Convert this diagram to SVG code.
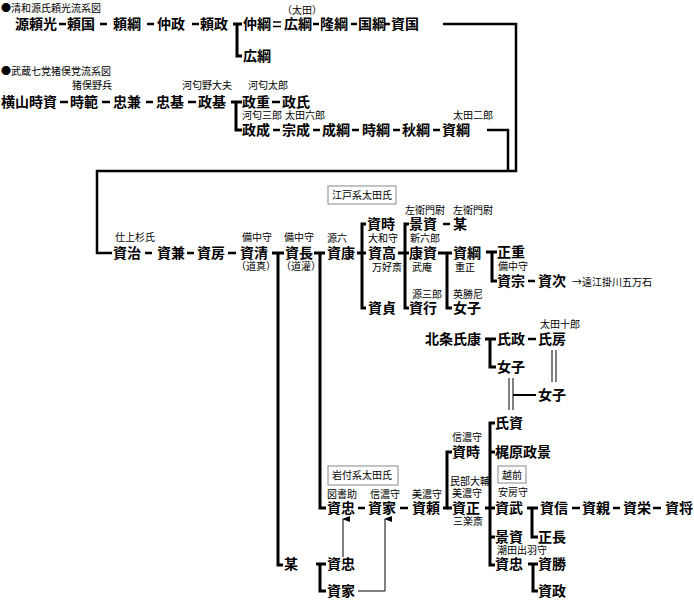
<svg xmlns="http://www.w3.org/2000/svg" width="694" height="600" viewBox="0 0 694 600">
<style>
text{font-family:"Noto Sans CJK JP","Noto Sans CJK SC",sans-serif;fill:#000}
.n{font-size:14px;font-weight:700}
.s{font-size:10px}
.t{font-size:10px}
.c line,.c polyline{stroke:#000;stroke-width:3;fill:none;stroke-linecap:butt}
.c .d{stroke-width:2.5}
.c .th{stroke-width:1}
.c .f{stroke-width:2.5}
.box{fill:#fff;stroke:#888;stroke-width:1}
</style>
<defs>
<marker id="ah" viewBox="0 0 6 8" refX="3" refY="1" markerWidth="6" markerHeight="8" orient="auto-start-reverse" markerUnits="userSpaceOnUse">
<path d="M0,8 L3,0 L6,8 Z" fill="#000"/>
</marker>
</defs>
<rect width="694" height="600" fill="#fff"/>
<g id="titles">
<text class="t" x="1" y="12">●清和源氏頼光流系図</text>
<text class="t" x="1" y="75">●武蔵七党猪俣党流系図</text>
</g>
<g class="c" id="connectors">
<line class="d" x1="59" y1="24" x2="66" y2="24"/>
<line class="d" x1="100" y1="24" x2="107" y2="24"/>
<line class="d" x1="147" y1="24" x2="154" y2="24"/>
<line class="d" x1="192" y1="24" x2="199" y2="24"/>
<polyline points="233,24 242,24"/>
<polyline points="237,24 237,56 242,56"/>
<line x1="273" y1="22" x2="281" y2="22" style="stroke-width:1.5"/>
<line x1="273" y1="26.5" x2="281" y2="26.5" style="stroke-width:1.5"/>
<line class="d" x1="313" y1="24" x2="319" y2="24"/>
<line class="d" x1="351" y1="24" x2="357" y2="24"/>
<line class="d" x1="385" y1="24" x2="390" y2="24"/>
<polyline class="f" points="443,24 516,24 516,171 97,171 97,253 112,253"/>
<line class="d" x1="60" y1="102" x2="68" y2="102"/>
<line class="d" x1="102" y1="102" x2="110" y2="102"/>
<line class="d" x1="146" y1="102" x2="153" y2="102"/>
<line class="d" x1="188" y1="102" x2="196" y2="102"/>
<polyline points="231,102 242,102"/>
<polyline points="236,102 236,130 242,130"/>
<line class="d" x1="272" y1="102" x2="280" y2="102"/>
<line class="d" x1="273" y1="130" x2="280" y2="130"/>
<line class="d" x1="313" y1="130" x2="320" y2="130"/>
<line class="d" x1="352" y1="130" x2="359" y2="130"/>
<line class="d" x1="393" y1="130" x2="400" y2="130"/>
<line class="d" x1="433" y1="130" x2="440" y2="130"/>
<polyline class="f" points="487,130 508,130 508,171"/>
<line class="d" x1="145" y1="253" x2="152" y2="253"/>
<line class="d" x1="187" y1="253" x2="194" y2="253"/>
<line class="d" x1="228" y1="253" x2="236" y2="253"/>
<polyline points="272,253 284,253"/>
<polyline points="278,253 278,565 283,565"/>
<polyline points="314,253 325,253"/>
<polyline points="320,253 320,508 326,508"/>
<polyline points="357,253 362,253"/>
<polyline points="366,224 362,224 362,308 366,308"/>
<line x1="362" y1="253" x2="366" y2="253"/>
<polyline points="409,224 405,224 405,308 409,308"/>
<line x1="398" y1="253" x2="409" y2="253"/>
<line class="d" x1="443" y1="224" x2="450" y2="224"/>
<polyline points="438,253 452,253"/>
<polyline points="447,253 447,308 452,308"/>
<polyline points="486,252 497,252"/>
<polyline points="492,252 492,281 497,281"/>
<line class="d" x1="528" y1="281" x2="535" y2="281"/>
<polyline points="485,339 496,339"/>
<polyline points="490,339 490,367 496,367"/>
<line class="d" x1="528" y1="339" x2="536" y2="339"/>
<line class="th" x1="552" y1="350" x2="552" y2="382"/>
<line class="th" x1="556" y1="350" x2="556" y2="382"/>
<line class="th" x1="509" y1="378" x2="509" y2="410"/>
<line class="th" x1="513" y1="378" x2="513" y2="410"/>
<line x1="513" y1="395" x2="536" y2="395" style="stroke-width:2"/>
<line class="d" x1="358" y1="508" x2="365" y2="508"/>
<line class="d" x1="400" y1="508" x2="408" y2="508"/>
<polyline points="452,452 447,452 447,508 443,508"/>
<line x1="447" y1="508" x2="452" y2="508"/>
<line x1="485" y1="508" x2="495" y2="508"/>
<polyline points="495,423 490,423 490,565 495,565"/>
<line x1="490" y1="452" x2="495" y2="452"/>
<line x1="490" y1="537" x2="495" y2="537"/>
<polyline points="527,508 538,508"/>
<polyline points="532,508 532,537 538,537"/>
<line class="d" x1="572" y1="508" x2="580" y2="508"/>
<line class="d" x1="613" y1="508" x2="620" y2="508"/>
<line class="d" x1="653" y1="508" x2="661" y2="508"/>
<polyline points="528,564 538,564"/>
<polyline points="533,564 533,591 538,591"/>
<polyline points="316,564 326,564"/>
<polyline points="320,564 320,591 326,591"/>
<line class="th" x1="343" y1="557" x2="343" y2="519" marker-end="url(#ah)"/>
<polyline class="th" points="358,591 385,591 385,519" marker-end="url(#ah)"/>
</g>
<g id="n-yorimitsu"><text class="n" x="15" y="29">源頼光</text></g>
<g id="n-yorikuni"><text class="n" x="67" y="29">頼国</text></g>
<g id="n-yoritsuna"><text class="n" x="113" y="29">頼綱</text></g>
<g id="n-nakamasa"><text class="n" x="157" y="29">仲政</text></g>
<g id="n-yorimasa"><text class="n" x="200" y="29">頼政</text></g>
<g id="n-nakatsuna"><text class="n" x="243" y="29">仲綱</text></g>
<g id="n-hirotsuna"><text class="s" x="282" y="14">（太田）</text><text class="n" x="284" y="29">広綱</text></g>
<g id="n-hirotsuna2"><text class="n" x="243" y="61">広綱</text></g>
<g id="n-takatsuna"><text class="n" x="320" y="29">隆綱</text></g>
<g id="n-kunitsuna"><text class="n" x="358" y="29">国綱</text></g>
<g id="n-sukekuni"><text class="n" x="391" y="29">資国</text></g>
<g id="n-tokisuke"><text class="n" x="1" y="107">横山時資</text></g>
<g id="n-tokinori"><text class="s" x="72" y="89">猪俣野兵</text><text class="n" x="70" y="107">時範</text></g>
<g id="n-tadakane"><text class="n" x="113" y="107">忠兼</text></g>
<g id="n-tadamoto"><text class="n" x="156" y="107">忠基</text></g>
<g id="n-masamoto"><text class="s" x="182" y="89">河匂野大夫</text><text class="n" x="198" y="107">政基</text></g>
<g id="n-masashige"><text class="s" x="248" y="89">河匂太郎</text><text class="n" x="242" y="107">政重</text></g>
<g id="n-masauji"><text class="n" x="282" y="107">政氏</text></g>
<g id="n-masanari"><text class="s" x="242" y="119">河匂三郎</text><text class="n" x="242" y="135">政成</text></g>
<g id="n-munenari"><text class="s" x="285" y="119">太田六郎</text><text class="n" x="282" y="135">宗成</text></g>
<g id="n-naritsuna"><text class="n" x="322" y="135">成綱</text></g>
<g id="n-tokitsuna"><text class="n" x="362" y="135">時綱</text></g>
<g id="n-akitsuna"><text class="n" x="402" y="135">秋綱</text></g>
<g id="n-suketsuna"><text class="s" x="453" y="119">太田二郎</text><text class="n" x="442" y="135">資綱</text></g>
<g id="n-sukeharu"><text class="s" x="115" y="241">仕上杉氏</text><text class="n" x="113" y="258">資治</text></g>
<g id="n-sukekane"><text class="n" x="157" y="258">資兼</text></g>
<g id="n-sukefusa"><text class="n" x="197" y="258">資房</text></g>
<g id="n-sukekiyo"><text class="s" x="242" y="241">備中守</text><text class="n" x="240" y="258">資清</text><text class="s" x="236" y="270">（道真）</text></g>
<g id="n-sukenaga"><text class="s" x="284" y="241">備中守</text><text class="n" x="285" y="258">資長</text><text class="s" x="281" y="270">（道灌）</text></g>
<g id="n-edo"><rect class="box" x="328" y="186" width="68" height="18"/><text class="s" x="332" y="199">江戸系太田氏</text></g>
<g id="n-sukeyasu"><text class="s" x="327" y="242">源六</text><text class="n" x="327" y="258">資康</text></g>
<g id="n-suketoki"><text class="n" x="367" y="229">資時</text></g>
<g id="n-suketaka"><text class="s" x="368" y="242">大和守</text><text class="n" x="368" y="258">資高</text><text class="s" x="372" y="271">万好斎</text></g>
<g id="n-suketada0"><text class="n" x="368" y="313">資貞</text></g>
<g id="n-kagesuke"><text class="s" x="405" y="214">左衛門尉</text><text class="n" x="409" y="229">景資</text></g>
<g id="n-bou"><text class="s" x="453" y="214">左衛門尉</text><text class="n" x="453" y="229">某</text></g>
<g id="n-yasusuke"><text class="s" x="410" y="242">新六郎</text><text class="n" x="409" y="258">康資</text><text class="s" x="412" y="271">武庵</text></g>
<g id="n-sukeyuki"><text class="s" x="412" y="298">源三郎</text><text class="n" x="409" y="313">資行</text></g>
<g id="n-suketsuna2"><text class="n" x="453" y="258">資綱</text><text class="s" x="455" y="271">重正</text></g>
<g id="n-eisho"><text class="s" x="453" y="298">英勝尼</text><text class="n" x="453" y="313">女子</text></g>
<g id="n-masashige2"><text class="n" x="497" y="257">正重</text></g>
<g id="n-sukemune"><text class="s" x="498" y="270">備中守</text><text class="n" x="497" y="286">資宗</text></g>
<g id="n-suketsugu"><text class="n" x="538" y="286">資次</text><text class="s" x="572" y="286">→遠江掛川五万石</text></g>
<g id="n-ujiyasu"><text class="n" x="425" y="344">北条氏康</text></g>
<g id="n-ujimasa"><text class="n" x="497" y="344">氏政</text></g>
<g id="n-ujifusa"><text class="s" x="540" y="328">太田十郎</text><text class="n" x="538" y="344">氏房</text></g>
<g id="n-joshi1"><text class="n" x="497" y="372">女子</text></g>
<g id="n-joshi2"><text class="n" x="538" y="400">女子</text></g>
<g id="n-ujisuke"><text class="n" x="495" y="428">氏資</text></g>
<g id="n-kajiwara"><text class="n" x="495" y="457">梶原政景</text></g>
<g id="n-echizen"><rect class="box" x="498" y="466" width="28" height="17"/><text class="s" x="502" y="479">越前</text></g>
<g id="n-suketake"><text class="s" x="498" y="496">安房守</text><text class="n" x="495" y="513">資武</text></g>
<g id="n-sukenobu"><text class="n" x="540" y="513">資信</text></g>
<g id="n-sukechika"><text class="n" x="582" y="513">資親</text></g>
<g id="n-sukehide"><text class="n" x="623" y="513">資栄</text></g>
<g id="n-sukemasa"><text class="n" x="665" y="513">資将</text></g>
<g id="n-masanaga"><text class="n" x="538" y="542">正長</text></g>
<g id="n-kagesuke2"><text class="n" x="495" y="542">景資</text></g>
<g id="n-suketada3"><text class="s" x="497" y="554">潮田出羽守</text><text class="n" x="495" y="569">資忠</text></g>
<g id="n-suketsugu2"><text class="n" x="538" y="569">資勝</text></g>
<g id="n-sukemasa2"><text class="n" x="538" y="596">資政</text></g>
<g id="n-iwatsuki"><rect class="box" x="328" y="466" width="70" height="19"/><text class="s" x="332" y="479">岩付系太田氏</text></g>
<g id="n-suketada"><text class="s" x="327" y="498">図書助</text><text class="n" x="327" y="513">資忠</text></g>
<g id="n-sukeie"><text class="s" x="370" y="498">信濃守</text><text class="n" x="368" y="513">資家</text></g>
<g id="n-sukeyori"><text class="s" x="412" y="498">美濃守</text><text class="n" x="412" y="513">資頼</text></g>
<g id="n-suketoki2"><text class="s" x="452" y="441">信濃守</text><text class="n" x="452" y="457">資時</text></g>
<g id="n-sukemasa3"><text class="s" x="450" y="485">民部大輔</text><text class="s" x="452" y="497">美濃守</text><text class="n" x="452" y="513">資正</text><text class="s" x="453" y="525">三楽斎</text></g>
<g id="n-bou2"><text class="n" x="284" y="569">某</text></g>
<g id="n-suketada2"><text class="n" x="327" y="569">資忠</text></g>
<g id="n-sukeie2"><text class="n" x="327" y="596">資家</text></g>
</svg>
